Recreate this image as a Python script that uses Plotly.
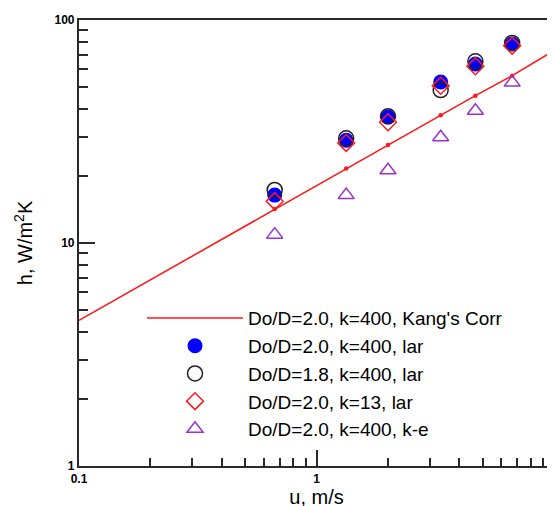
import plotly.graph_objects as go

u = [0.6667, 1.3333, 2.0, 3.3333, 4.6667, 6.6667]
u_corr = [0.1, 0.6667, 1.3333, 2.0, 3.3333, 4.6667, 6.6667, 10.0]
h_kang = [4.5, 14.2, 21.6, 27.5, 37.4, 45.8, 56.3, 73.0]
h_d20_k400_lar = [16.4, 28.9, 36.7, 52.7, 63.5, 78.0]
h_d18_k400_lar = [17.3, 29.5, 37.0, 48.5, 65.3, 78.9]
h_d20_k13_lar = [15.4, 28.1, 34.8, 50.7, 62.0, 76.7]
h_d20_k400_ke = [10.9, 16.4, 21.2, 29.8, 39.2, 52.4]

names = ["Do/D=2.0, k=400, Kang's Corr", "Do/D=2.0, k=400, lar",
         "Do/D=1.8, k=400, lar", "Do/D=2.0, k=13, lar", "Do/D=2.0, k=400, k-e"]

x_major = [0.1, 1, 10]
x_labels = ["0.1", "1", "10"]
y_major = [1, 10, 100]
y_labels = ["1", "10", "100"]

FONT = "Liberation Sans, Arial, Helvetica"
RED = "#ff1a1a"
AX = "#2a2a2a"

fig = go.Figure()
fig.add_trace(go.Scatter(x=u_corr, y=h_kang, mode="lines", name=names[0],
                         line=dict(color=RED, width=1.6)))
fig.add_trace(go.Scatter(x=u_corr[1:-1], y=h_kang[1:-1], mode="markers", showlegend=False,
                         marker=dict(size=4.5, color=RED), hoverinfo="skip"))
fig.add_trace(go.Scatter(x=u, y=h_d20_k400_lar, mode="markers", name=names[1],
                         marker=dict(symbol="circle", size=15, color="#0000ff",
                                     line=dict(width=0))))
fig.add_trace(go.Scatter(x=u, y=h_d18_k400_lar, mode="markers", name=names[2],
                         marker=dict(symbol="circle-open", size=15, color="#222222",
                                     line=dict(width=1.5))))
fig.add_trace(go.Scatter(x=u, y=h_d20_k13_lar, mode="markers", name=names[3],
                         marker=dict(symbol="diamond-open", size=13, color=RED,
                                     line=dict(width=1.5))))
fig.add_trace(go.Scatter(x=u, y=h_d20_k400_ke, mode="markers", name=names[4],
                         marker=dict(symbol="triangle-up-open", size=14, color="#9933cc",
                                     line=dict(width=1.5))))

axis_common = dict(type="log", showline=True, linewidth=2.2, linecolor=AX,
                   mirror=True, showgrid=False, zeroline=False, automargin=False,
                   ticks="inside", ticklen=16, tickwidth=2, tickcolor=AX,
                   tickfont=dict(family=FONT, size=12, color="black", weight="bold"))

fig.update_xaxes(**axis_common, range=[-1, 1], tickvals=x_major, ticktext=x_labels,
                 minor=dict(ticks="inside", ticklen=8, tickwidth=2, tickcolor=AX,
                            dtick="D1", showgrid=False),
                 title=dict(text="u, m/s", font=dict(family=FONT, size=20, color="black"),
                            standoff=0))
fig.update_yaxes(**axis_common, range=[0, 2], tickvals=y_major, ticktext=y_labels,
                 minor=dict(ticks="inside", ticklen=9, tickwidth=2, tickcolor=AX,
                            dtick="D1", showgrid=False),
                 title=dict(text="h, W/m<sup>2</sup>K", font=dict(family=FONT, size=20, color="black"),
                            standoff=16))

fig.update_layout(width=555, height=506, margin=dict(l=71, r=9, t=12, b=48),
                  plot_bgcolor="white", paper_bgcolor="white",
                  legend=dict(x=(134 - 71) / 475, y=0.374, xanchor="left", yanchor="top",
                              bgcolor="rgba(0,0,0,0)", itemwidth=96,
                              font=dict(family=FONT, size=19, color="black"),
                              tracegroupgap=0, itemsizing="trace"),
                  showlegend=True)

fig.write_html("out.html")
